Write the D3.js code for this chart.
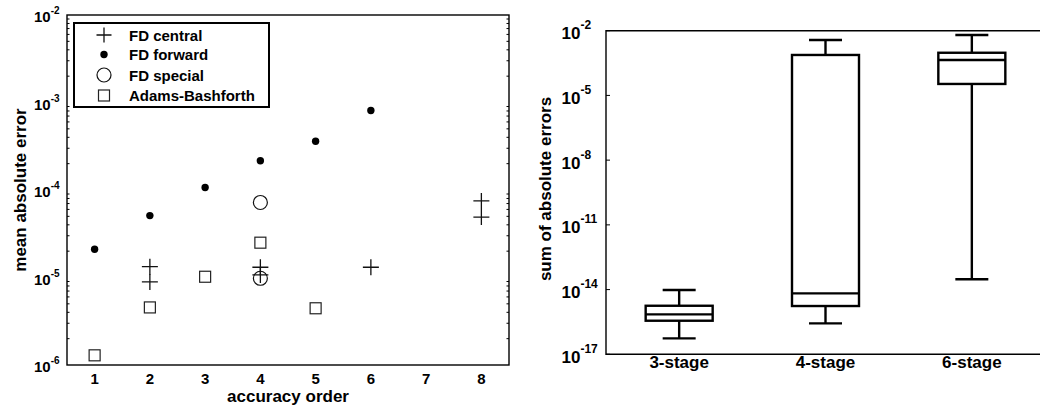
<!DOCTYPE html>
<html>
<head>
<meta charset="utf-8">
<script src="https://cdn.jsdelivr.net/npm/d3@7"></script>
<style>
  body { margin: 0; background: #fff; }
  svg text { font-family: "Liberation Sans", Arial, sans-serif; font-weight: bold; fill: #000; }
</style>
</head>
<body>
<div id="chart"></div>
<script>
// ---- data: left panel (mean absolute error vs accuracy order) ----
var orderTicks = [1, 2, 3, 4, 5, 6, 7, 8];
var centralOrder = [2, 2, 4, 4, 6, 8, 8];
var centralError = [1.33e-5, 8.9e-6, 1.31e-5, 1.07e-5, 1.31e-5, 7.5e-5, 4.9e-5];
var forwardOrder = [1, 2, 3, 4, 5, 6];
var forwardError = [2.1e-5, 5.1e-5, 1.07e-4, 2.16e-4, 3.6e-4, 8.1e-4];
var specialOrder = [4, 4];
var specialError = [7.2e-5, 9.8e-6];
var abOrder = [1, 2, 3, 4, 5];
var abError = [1.29e-6, 4.55e-6, 1.02e-5, 2.5e-5, 4.45e-6];
var leftYTicks = [-2, -3, -4, -5, -6];
var legendLabels = ["FD central", "FD forward", "FD special", "Adams-Bashforth"];

// ---- data: right panel (box plots) ----
var stages = ["3-stage", "4-stage", "6-stage"];
var whiskerLow = [5.5e-17, 2.7e-16, 3.0e-14];
var boxLow = [3.6e-16, 1.73e-15, 3.4e-5];
var boxMedian = [7.1e-16, 6.7e-15, 4.4e-4];
var boxHigh = [1.78e-15, 7.5e-4, 9.5e-4];
var whiskerHigh = [9.5e-15, 3.7e-3, 6.3e-3];
var rightYTicks = [-2, -5, -8, -11, -14, -17];

var svg = d3.select("#chart").append("svg")
    .attr("width", 1040)
    .attr("height", 412);

function expLabel(sel, x, y, e, big, small, supUp) {
    var t = sel.append("text").attr("x", x).attr("y", y).style("font-size", big + "px");
    t.append("tspan").text("10");
    t.append("tspan").attr("dy", -supUp).style("font-size", small + "px").text(String(e).replace("-", "-"));
}

// ================= left panel =================
var L = { left: 67, right: 509, top: 15, bottom: 365 };
var x = d3.scaleLinear().domain([0.5, 8.5]).range([L.left, L.right]);
var y = d3.scaleLog().domain([1e-6, 1e-2]).range([L.bottom, L.top]);
var left = svg.append("g");

// minor ticks on left and right borders
var minor = [];
for (var k = -6; k < -2; k++) {
    for (var m = 2; m <= 9; m++) minor.push(m * Math.pow(10, k));
}
left.selectAll("line.minl").data(minor).enter().append("line")
    .attr("x1", L.left).attr("x2", L.left + 2.5)
    .attr("y1", function(d) { return y(d); }).attr("y2", function(d) { return y(d); })
    .attr("stroke", "#000").attr("stroke-width", 1);
left.selectAll("line.minr").data(minor).enter().append("line")
    .attr("x1", L.right).attr("x2", L.right - 2.5)
    .attr("y1", function(d) { return y(d); }).attr("y2", function(d) { return y(d); })
    .attr("stroke", "#000").attr("stroke-width", 1);

left.append("rect")
    .attr("x", L.left).attr("y", L.top)
    .attr("width", L.right - L.left).attr("height", L.bottom - L.top)
    .attr("fill", "none").attr("stroke", "#000").attr("stroke-width", 1.4);

leftYTicks.forEach(function(e) {
    expLabel(left, 34, y(Math.pow(10, e)) + 7, e, 15, 10, 8);
});

left.selectAll("text.xt").data(orderTicks).enter().append("text")
    .attr("x", function(d) { return x(d); })
    .attr("y", 384)
    .attr("text-anchor", "middle")
    .style("font-size", "15px")
    .text(function(d) { return d; });

left.append("text")
    .attr("x", x(4.5)).attr("y", 402)
    .attr("text-anchor", "middle").style("font-size", "17px")
    .text("accuracy order");
left.append("text")
    .attr("transform", "translate(26," + ((L.top + L.bottom) / 2) + ") rotate(-90)")
    .attr("text-anchor", "middle").style("font-size", "17px")
    .text("mean absolute error");

function plus(g, cx, cy, s) {
    g.append("path")
        .attr("d", "M" + (cx - s / 2) + "," + cy + "H" + (cx + s / 2) + "M" + cx + "," + (cy - s / 2) + "V" + (cy + s / 2))
        .attr("stroke", "#111").attr("stroke-width", 1.3).attr("fill", "none");
}
function dot(g, cx, cy) {
    g.append("circle").attr("cx", cx).attr("cy", cy).attr("r", 3.7).attr("fill", "#000");
}
function ring(g, cx, cy) {
    g.append("circle").attr("cx", cx).attr("cy", cy).attr("r", 7)
        .attr("fill", "none").attr("stroke", "#111").attr("stroke-width", 1.2);
}
function square(g, cx, cy) {
    g.append("rect").attr("x", cx - 5.5).attr("y", cy - 5.5).attr("width", 11).attr("height", 11)
        .attr("fill", "none").attr("stroke", "#222").attr("stroke-width", 1.2);
}

var pts = left.append("g");
forwardOrder.forEach(function(o, i) { dot(pts, x(o), y(forwardError[i])); });
specialOrder.forEach(function(o, i) { ring(pts, x(o), y(specialError[i])); });
abOrder.forEach(function(o, i) { square(pts, x(o), y(abError[i])); });
centralOrder.forEach(function(o, i) { plus(pts, x(o), y(centralError[i]), 16); });

// legend
var leg = left.append("g");
leg.append("rect").attr("x", 74).attr("y", 23).attr("width", 195).attr("height", 84)
    .attr("fill", "#fff").attr("stroke", "#000").attr("stroke-width", 2);
var legY = [35, 54.5, 75, 95.5];
plus(leg, 104, legY[0], 15);
dot(leg, 104, legY[1]);
ring(leg, 104, legY[2]);
square(leg, 104, legY[3]);
leg.selectAll("text").data(legendLabels).enter().append("text")
    .attr("x", 129).attr("y", function(d, i) { return legY[i] + 5.5; })
    .style("font-size", "15px")
    .text(function(d) { return d; });

// ================= right panel =================
var R = { left: 606, right: 1045, top: 30.7, bottom: 354.3 };
var xb = d3.scalePoint().domain(stages).range([R.left, R.right]).padding(0.5);
var yb = d3.scaleLog().domain([1e-17, 1e-2]).range([R.bottom, R.top]);
var right = svg.append("g");

right.append("path")
    .attr("d", "M" + R.right + "," + R.top + "H" + R.left + "V" + R.bottom + "H" + R.right)
    .attr("fill", "none").attr("stroke", "#000").attr("stroke-width", 1.4);

rightYTicks.forEach(function(e) {
    var ty = yb(Math.pow(10, e));
    right.append("line").attr("x1", R.left).attr("x2", R.left + 4)
        .attr("y1", ty).attr("y2", ty).attr("stroke", "#000").attr("stroke-width", 1);
    expLabel(right, 561.5, ty + 8.6, e, 17, 12, 10);
});

right.selectAll("text.cat").data(stages).enter().append("text")
    .attr("x", function(d) { return xb(d); })
    .attr("y", 368)
    .attr("text-anchor", "middle").style("font-size", "17px")
    .text(function(d) { return d; });

right.append("text")
    .attr("transform", "translate(551," + 189 + ") rotate(-90)")
    .attr("text-anchor", "middle").style("font-size", "17px")
    .text("sum of absolute errors");

var boxW = 67, capW = 33;
var boxes = right.selectAll("g.box").data(stages).enter().append("g")
    .attr("fill", "none").attr("stroke", "#000").attr("stroke-width", 2.4);
boxes.each(function(d, i) {
    var g = d3.select(this), cx = xb(d);
    g.append("line").attr("x1", cx).attr("x2", cx).attr("y1", yb(whiskerHigh[i])).attr("y2", yb(boxHigh[i]));
    g.append("line").attr("x1", cx).attr("x2", cx).attr("y1", yb(boxLow[i])).attr("y2", yb(whiskerLow[i]));
    g.append("line").attr("x1", cx - capW / 2).attr("x2", cx + capW / 2).attr("y1", yb(whiskerHigh[i])).attr("y2", yb(whiskerHigh[i]));
    g.append("line").attr("x1", cx - capW / 2).attr("x2", cx + capW / 2).attr("y1", yb(whiskerLow[i])).attr("y2", yb(whiskerLow[i]));
    g.append("rect").attr("x", cx - boxW / 2).attr("y", yb(boxHigh[i]))
        .attr("width", boxW).attr("height", yb(boxLow[i]) - yb(boxHigh[i]));
    g.append("line").attr("x1", cx - boxW / 2).attr("x2", cx + boxW / 2).attr("y1", yb(boxMedian[i])).attr("y2", yb(boxMedian[i]));
});
</script>
</body>
</html>
